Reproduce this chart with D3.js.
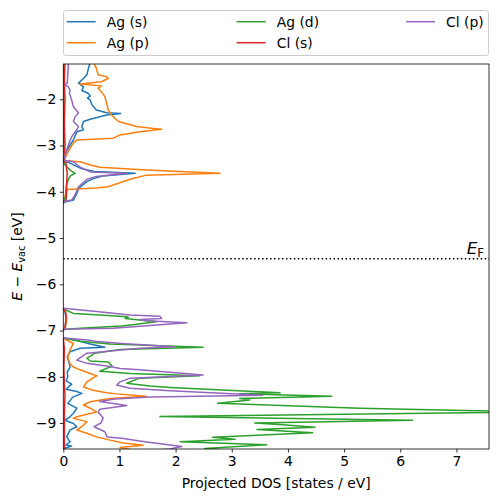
<!DOCTYPE html>
<html><head><meta charset="utf-8">
<script src="https://cdn.jsdelivr.net/npm/d3@7"></script>
<style>body{margin:0;background:#fff}svg{display:block}text{font-family:"DejaVu Sans",sans-serif}</style>
</head><body><svg id="c" width="498" height="502"></svg>
<script>
const categories = ["Ag (s)", "Ag (p)", "Ag (d)", "Cl (s)", "Cl (p)"];
const colors = ["#1f77b4", "#ff7f0e", "#2ca02c", "#d62728", "#9467bd"];
const xTicks = [0, 1, 2, 3, 4, 5, 6, 7];
const yTicks = [-9, -8, -7, -6, -5, -4, -3, -2];
const xDomain = [0, 7.58];
const yDomain = [-9.562, -1.237];
const fermiLevel = -5.45;

// [energy (eV), projected DOS] ; null = break
const agS = [[-1.20,0.48],[-1.28,0.46],[-1.37,0.44],[-1.47,0.42],[-1.56,0.35],[-1.65,0.27],[-1.73,0.36],[-1.81,0.33],[-1.87,0.44],[-1.93,0.48],[-1.97,0.43],[-2.02,0.48],[-2.12,0.51],[-2.23,0.59],[-2.29,0.77],[-2.31,1.02],[-2.34,0.77],[-2.43,0.48],[-2.48,0.36],[-2.59,0.33],[-2.66,0.36],[-2.70,0.24],[-2.88,0.18],[-3.05,0.09],[-3.20,0.03],[-3.32,0.00],[-3.38,0.12],[-3.49,0.30],[-3.56,0.55],[-3.60,1.28],[-3.66,0.70],[-3.71,0.55],[-3.78,0.42],[-3.93,0.27],[-4.04,0.24],[-4.18,0.18],[-4.22,0.03],[-4.25,0.00],
 null,
 [-6.52,0],[-6.60,0.03],[-6.75,0.05],[-6.85,0.04],[-6.97,0.02],[-6.99,0],
 null,
 [-7.16,0],[-7.205,0.21],[-7.29,0.48],[-7.36,0.74],[-7.385,0.30],[-7.46,0.12],[-7.57,0.07],[-7.68,0.10],[-7.79,0.12],[-7.90,0.07],[-8.00,0.08],[-8.09,0.05],[-8.16,0.15],[-8.27,0.05],[-8.32,0.24],[-8.36,0.33],[-8.44,0.17],[-8.575,0.08],[-8.68,0.24],[-8.79,0.18],[-8.865,0.12],[-8.94,0.03],[-9.01,0.18],[-9.08,0.24],[-9.15,0.12],[-9.30,0.06],[-9.405,0.12],[-9.476,0.05],[-9.50,0.15],[-9.54,0.03],[-9.60,0.05]];

const agP = [[-1.20,0.57],[-1.26,0.56],[-1.33,0.59],[-1.47,0.62],[-1.51,0.77],[-1.55,0.80],[-1.62,0.68],[-1.67,0.30],[-1.71,0.68],[-1.76,0.62],[-1.84,0.68],[-1.94,0.74],[-2.08,0.77],[-2.23,0.80],[-2.34,0.86],[-2.48,0.98],[-2.59,1.31],[-2.63,1.60],[-2.65,1.75],[-2.70,1.36],[-2.77,1.01],[-2.84,0.89],[-2.88,0.24],[-2.92,0.20],[-3.00,0.15],[-3.15,0.08],[-3.30,0.02],[-3.33,0.03],[-3.35,0.30],[-3.42,0.48],[-3.47,0.65],[-3.53,1.48],[-3.60,2.79],[-3.64,1.48],[-3.73,1.19],[-3.89,0.80],[-3.92,0.59],[-3.95,0.06],[-4.10,0.03],[-4.25,0],
 null,
 [-6.52,0],[-6.60,0.04],[-6.75,0.06],[-6.90,0.04],[-6.99,0],
 null,
 [-7.16,0],[-7.205,0.06],[-7.28,0.18],[-7.42,0.12],[-7.57,0.08],[-7.72,0.12],[-7.79,0.18],[-7.85,0.30],[-7.93,0.48],[-7.98,0.60],[-8.00,0.56],[-8.11,0.42],[-8.22,0.36],[-8.29,0.53],[-8.345,0.77],[-8.37,0.95],[-8.42,1.48],[-8.47,0.83],[-8.54,0.48],[-8.61,0.36],[-8.68,0.48],[-8.76,0.59],[-8.865,0.24],[-8.90,0.18],[-8.97,0.42],[-9.08,0.33],[-9.15,0.24],[-9.22,0.42],[-9.30,0.59],[-9.37,0.83],[-9.43,1.07],[-9.48,1.42],[-9.53,1.01],[-9.60,1.30]];

const agD = [[-1.20,0.01],[-3.30,0.01],[-3.33,0],[-3.42,0.03],[-3.53,0.12],[-3.60,0.21],[-3.66,0.12],[-3.73,0.09],[-3.89,0.05],[-4.10,0.04],[-4.25,0],
 null,
 [-6.535,0],[-6.63,0.18],[-6.665,0.65],[-6.70,1.13],[-6.715,1.16],[-6.74,1.10],[-6.81,1.66],[-6.88,1.19],[-6.90,1.04],[-6.95,0.30],[-6.98,0],
 null,
 [-7.16,0],[-7.23,0.30],[-7.29,0.83],[-7.36,2.49],[-7.41,1.01],[-7.49,0.56],[-7.60,0.42],[-7.66,0.48],[-7.68,0.80],[-7.77,0.87],[-7.88,0.65],[-7.93,1.19],[-7.98,2.43],[-8.03,1.36],[-8.14,1.13],[-8.20,1.54],[-8.23,1.90],[-8.345,3.86],[-8.37,3.14],[-8.42,4.78],[-8.47,3.14],[-8.50,3.32],[-8.575,2.75],[-8.68,5.28],[-8.76,8.30],[-8.86,1.72],[-8.94,6.22],[-9.00,3.41],[-9.04,3.91],[-9.09,4.48],[-9.14,3.45],[-9.21,4.44],[-9.31,2.66],[-9.35,3.06],[-9.405,2.08],[-9.47,3.62],[-9.55,2.52],[-9.60,3.00]];

const clS = [[-1.20,0.03],[-1.60,0.02],[-2.00,0.03],[-2.50,0.02],[-3.00,0.03],[-3.30,0.02],[-3.33,0],[-3.38,0.05],[-3.50,0.06],[-3.60,0.07],[-3.80,0.06],[-4.00,0.06],[-4.18,0.05],[-4.22,0],
 null,
 [-6.52,0],[-6.60,0.04],[-6.70,0.05],[-6.85,0.04],[-6.95,0.03],[-6.99,0],
 null,
 [-7.16,0],[-7.40,0.02],[-7.80,0.01],[-8.20,0.02],[-8.40,0.03],[-8.80,0.02],[-9.20,0.02],[-9.60,0.02]];

const clP = [[-1.20,0.09],[-1.26,0.09],[-1.45,0.08],[-1.65,0.07],[-1.69,0.03],[-1.73,0.09],[-1.80,0.12],[-1.87,0.11],[-2.02,0.15],[-2.16,0.18],[-2.29,0.27],[-2.38,0.21],[-2.48,0.18],[-2.59,0.27],[-2.66,0.24],[-2.81,0.15],[-2.99,0.09],[-3.20,0.03],[-3.32,0],[-3.35,0.18],[-3.47,0.30],[-3.57,0.48],[-3.60,1.13],[-3.67,0.59],[-3.73,0.42],[-3.89,0.27],[-4.07,0.21],[-4.18,0.15],[-4.215,0],
 null,
 [-6.52,0],[-6.59,0.59],[-6.665,1.19],[-6.69,1.72],[-6.74,1.75],[-6.76,1.36],[-6.79,1.48],[-6.83,2.20],[-6.88,1.66],[-6.95,0.89],[-6.97,0],
 null,
 [-7.16,0],[-7.205,0.44],[-7.24,0.62],[-7.28,1.04],[-7.35,1.99],[-7.385,1.36],[-7.49,0.42],[-7.64,0.24],[-7.71,0.42],[-7.78,0.83],[-7.82,1.01],[-7.85,1.36],[-7.96,2.49],[-8.03,1.19],[-8.11,1.01],[-8.18,0.95],[-8.25,1.19],[-8.30,1.90],[-8.40,3.55],[-8.44,1.54],[-8.48,0.92],[-8.535,0.65],[-8.62,1.13],[-8.70,0.65],[-8.76,0.62],[-8.89,0.71],[-9.00,0.67],[-9.08,0.55],[-9.19,0.74],[-9.30,0.78],[-9.33,1.04],[-9.405,1.45],[-9.51,2.11],[-9.56,1.90],[-9.60,1.50]];

const seriesData = [agS, agP, agD, clS, clP];

const svg = d3.select("#c");
const L = 63.3, R = 489, T = 64, B = 449;
const FS = "13.9px";
const x = d3.scaleLinear().domain(xDomain).range([L, R]);
const y = d3.scaleLinear().domain(yDomain).range([B, T]);

svg.append("defs").append("clipPath").attr("id","clip")
  .append("rect").attr("x",L).attr("y",T).attr("width",R-L).attr("height",B-T);

const line = d3.line().defined(d => d !== null).x(d => x(d[1])).y(d => y(d[0]));
const g = svg.append("g").attr("clip-path","url(#clip)");
seriesData.forEach((s,i) => {
  g.append("path").datum(s).attr("d", line).attr("fill","none")
   .attr("stroke", colors[i]).attr("stroke-width",1.5).attr("stroke-linejoin","round");
});

// Fermi level
g.append("line").attr("x1",L).attr("x2",R).attr("y1",y(fermiLevel)).attr("y2",y(fermiLevel))
  .attr("stroke","#000").attr("stroke-width",1.5).attr("stroke-dasharray","1.5,2.475");
const ef = svg.append("text").attr("x",484).attr("y",y(fermiLevel)-5).attr("text-anchor","end")
  .style("font-size","16.7px");
ef.append("tspan").text("E").style("font-style","italic");
ef.append("tspan").text("F").attr("dy",3).style("font-size","11.7px");

// Axes
const xAxis = svg.append("g").attr("transform",`translate(0,${B})`)
  .call(d3.axisBottom(x).tickValues(xTicks).tickFormat(d3.format("d")).tickSize(3.5).tickPadding(3.5).tickSizeOuter(0));
const yAxis = svg.append("g").attr("transform",`translate(${L},0)`)
  .call(d3.axisLeft(y).tickValues(yTicks).tickFormat(d3.format("d")).tickSize(3.5).tickPadding(3.5).tickSizeOuter(0));
[xAxis,yAxis].forEach(a => {
  a.select(".domain").remove();
  a.selectAll(".tick line").attr("stroke","#000").attr("stroke-width",0.8);
  a.selectAll(".tick text").attr("fill","#000").style("font-size",FS).style("font-family","DejaVu Sans");
});

svg.append("rect").attr("x",L).attr("y",T).attr("width",R-L).attr("height",B-T)
  .attr("fill","none").attr("stroke","#000").attr("stroke-width",0.8);

// Axis labels
svg.append("text").attr("x",(L+R)/2).attr("y",488).attr("text-anchor","middle")
  .style("font-size",FS).text("Projected DOS [states / eV]");
const yl = svg.append("text").attr("transform",`translate(22,${(T+B)/2}) rotate(-90)`)
  .attr("text-anchor","middle").style("font-size",FS);
yl.append("tspan").text("E").style("font-style","italic");
yl.append("tspan").text(" \u2212 ");
yl.append("tspan").text("E").style("font-style","italic");
yl.append("tspan").text("vac").attr("dy",2.5).style("font-size","9.7px");
yl.append("tspan").text(" [eV]").attr("dy",-2.5);

// Legend
const lg = svg.append("g");
lg.append("rect").attr("x",63.5).attr("y",10.5).attr("width",425).attr("height",45).attr("rx",2.5)
  .attr("fill","#fff").attr("stroke","#cccccc").attr("stroke-width",1);
const colX = [66.7, 236.7, 406];
const rowY = [21.7, 42.7];
categories.forEach((c,i) => {
  const col = Math.floor(i/2), row = i%2;
  const cx = colX[col], cy = rowY[row];
  lg.append("line").attr("x1",cx).attr("x2",cx+29).attr("y1",cy).attr("y2",cy)
    .attr("stroke",colors[i]).attr("stroke-width",1.5);
  lg.append("text").attr("x",cx+40).attr("y",cy+5).style("font-size",FS).text(c);
});
</script></body></html>
